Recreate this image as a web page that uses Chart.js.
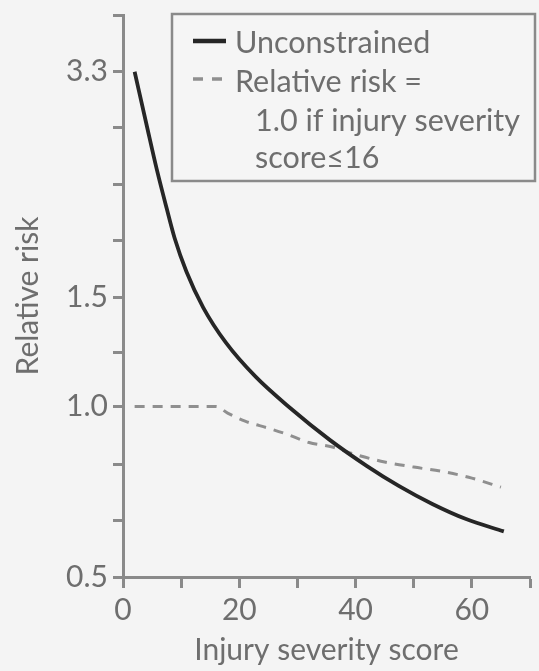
<!DOCTYPE html>
<html>
<head>
<meta charset="utf-8">
<script src="https://cdn.jsdelivr.net/npm/chart.js@4.4.1/dist/chart.umd.min.js"></script>
<style>
  html, body { margin: 0; padding: 0; background: #f4f4f4; }
  #wrap { width: 539px; height: 671px; }
</style>
</head>
<body>
<div id="wrap"><canvas id="c" width="539" height="671"></canvas></div>
<script>
// ---- data ----
const solidX = [2, 4.1, 5.8, 7.5, 8.9, 10.9, 13.8, 17.7, 22.8, 28.7, 35.5, 41.9, 47.5, 53.2, 59, 65.5];
const solidY = [3.3, 2.74, 2.36, 2.06, 1.85, 1.645, 1.444, 1.27, 1.119, 0.995, 0.88, 0.794, 0.732, 0.681, 0.640, 0.608];
const dashedX = [2, 16, 18, 21, 25, 28, 32, 36, 40, 45, 50, 55, 60, 65];
const dashedY = [1.0, 1.0, 0.975, 0.945, 0.92, 0.90, 0.87, 0.855, 0.83, 0.806, 0.79, 0.776, 0.756, 0.729];

const xTickValues = [0, 10, 20, 30, 40, 50, 60, 70];
const xTickLabels = ['0', '', '20', '', '40', '', '60', ''];
const yTickValues = [0.5, 0.635, 0.797, 1.0, 1.225, 1.5, 1.839, 2.241, 2.722, 3.3, 4.0];
const yTickLabels = ['0.5', '', '', '1.0', '', '1.5', '', '', '', '3.3', ''];

const seriesNames = ['Unconstrained', 'Relative risk = 1.0 if injury severity score≤16'];
const legendLines = [['Unconstrained'], ['Relative risk =', '1.0 if injury severity', 'score≤16']];
const xTitle = 'Injury severity score';
const yTitle = 'Relative risk';

// ---- styles ----
const TEXT = '#6e6e6e';
const AXIS = '#8a8a8a';
const FONT = 'Lato, "Open Sans", sans-serif';
const SHIFT = 0.18;

// Logarithmic-type axis (log of value + offset), as printed in the source figure
class ShiftedLogScale extends Chart.LinearScale {
  static id = 'shiftedLog';
  static defaults = Chart.LinearScale.defaults;
  _f(v) { return Math.log(v + SHIFT); }
  getPixelForValue(value) {
    if (value === null || value === undefined || isNaN(value)) return NaN;
    const a = this._f(this.min), b = this._f(this.max);
    return this.getPixelForDecimal((this._f(value) - a) / (b - a));
  }
  getValueForPixel(pixel) {
    const a = this._f(this.min), b = this._f(this.max);
    return Math.exp(a + this.getDecimalForPixel(pixel) * (b - a)) - SHIFT;
  }
}
Chart.register(ShiftedLogScale);

const legendBox = {
  id: 'legendBox',
  afterDraw(chart) {
    const ctx = chart.ctx;
    ctx.save();
    ctx.fillStyle = '#f5f5f5';
    ctx.fillRect(172, 14, 363, 167);
    ctx.strokeStyle = AXIS;
    ctx.lineWidth = 2.5;
    ctx.strokeRect(172, 14, 363, 167);
    // samples
    ctx.lineCap = 'butt';
    ctx.strokeStyle = '#262626';
    ctx.lineWidth = 4.5;
    ctx.beginPath(); ctx.moveTo(193, 41); ctx.lineTo(226, 41); ctx.stroke();
    ctx.strokeStyle = '#8f8f8f';
    ctx.lineWidth = 3.5;
    ctx.setLineDash([10, 9]);
    ctx.beginPath(); ctx.moveTo(193, 79); ctx.lineTo(226, 79); ctx.stroke();
    ctx.setLineDash([]);
    // text
    ctx.fillStyle = TEXT;
    ctx.font = '30.5px ' + FONT;
    ctx.textBaseline = 'alphabetic';
    ctx.textAlign = 'left';
    const baselines = [53, 92, 131, 168];
    let row = 0;
    legendLines.forEach((lines) => {
      lines.forEach((t, j) => {
        ctx.fillText(t, j === 0 ? 235 : 255, baselines[row]);
        row++;
      });
    });
    ctx.restore();
  }
};

const ctx = document.getElementById('c');
new Chart(ctx, {
  type: 'line',
  data: {
    datasets: [
      {
        label: seriesNames[0],
        data: solidX.map((x, i) => ({ x, y: solidY[i] })),
        borderColor: '#262626',
        borderWidth: 3.8,
        pointRadius: 0,
        cubicInterpolationMode: 'monotone',
        fill: false
      },
      {
        label: seriesNames[1],
        data: dashedX.map((x, i) => ({ x, y: dashedY[i] })),
        borderColor: '#8f8f8f',
        borderWidth: 3,
        borderDash: [10, 8],
        pointRadius: 0,
        cubicInterpolationMode: 'monotone',
        fill: false
      }
    ]
  },
  options: {
    responsive: false,
    animation: false,
    events: [],
    layout: { padding: { left: 8, right: 9, top: 15, bottom: 0 } },
    plugins: { legend: { display: false }, tooltip: { enabled: false } },
    scales: {
      x: {
        type: 'linear',
        min: 0, max: 70,
        afterBuildTicks: (s) => { s.ticks = xTickValues.map(v => ({ value: v })); },
        afterFit: (s) => { s.height = 94; s.paddingLeft = 0; s.paddingRight = 0; },
        ticks: {
          autoSkip: false,
          maxRotation: 0,
          padding: 4,
          color: TEXT,
          font: { family: FONT, size: 30 },
          callback: (v) => { const i = xTickValues.indexOf(v); return i >= 0 ? xTickLabels[i] : ''; }
        },
        grid: { drawOnChartArea: false, drawTicks: true, tickLength: 11, tickWidth: 3, tickColor: AXIS },
        border: { display: true, color: AXIS, width: 3 },
        title: { display: true, text: xTitle, color: TEXT, font: { family: FONT, size: 30 }, padding: { top: 0, bottom: 3 } }
      },
      y: {
        type: 'shiftedLog',
        min: 0.5, max: 4.0,
        afterBuildTicks: (s) => { s.ticks = yTickValues.map(v => ({ value: v })); },
        afterFit: (s) => { s.width = 115; s.paddingTop = 0; s.paddingBottom = 0; },
        ticks: {
          autoSkip: false,
          padding: 5,
          color: TEXT,
          font: { family: FONT, size: 30 },
          callback: (v) => { const i = yTickValues.indexOf(v); return i >= 0 ? yTickLabels[i] : ''; }
        },
        grid: { drawOnChartArea: false, drawTicks: true, tickLength: 10, tickWidth: 3, tickColor: AXIS },
        border: { display: true, color: AXIS, width: 3 },
        title: { display: true, text: yTitle, color: TEXT, font: { family: FONT, size: 30 }, padding: { top: 2, bottom: 0 } }
      }
    }
  },
  plugins: [legendBox]
});
</script>
</body>
</html>
